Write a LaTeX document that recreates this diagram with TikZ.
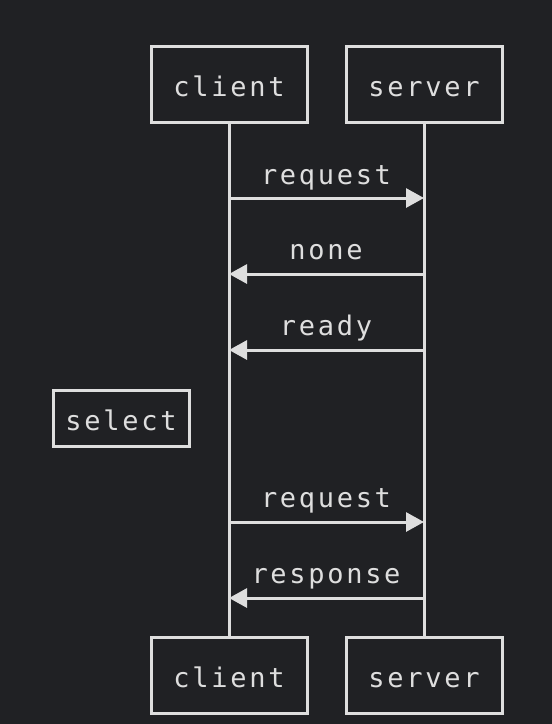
\documentclass[tikz,border=0pt]{standalone}
\usepackage{fontspec}
\setmonofont[LetterSpace=10]{DejaVu Sans Mono}
\usetikzlibrary{arrows.meta}
\definecolor{bg}{RGB}{32,33,36}
\definecolor{fg}{RGB}{222,222,222}
\tikzset{
  actor/.style={draw=fg, line width=3pt, fill=bg, minimum width=156pt, minimum height=76pt,
    inner sep=0pt, text height=24pt, text depth=0pt, text=fg, font=\ttfamily\fontsize{27}{27}\selectfont},
  notebox/.style={actor, minimum width=136pt, minimum height=56pt},
  msglabel/.style={anchor=base, text=fg, inner sep=0pt, font=\ttfamily\fontsize{27}{27}\selectfont},
  lifeline/.style={draw=fg, line width=3pt},
  msg/.style={draw=fg, line width=3pt, -{Triangle[length=18pt,width=19pt]}},
}
\begin{document}
\begin{tikzpicture}[x=1pt,y=-1pt]
  \fill[bg] (0,0) rectangle (552,724);
  \useasboundingbox (0,0) rectangle (552,724);
  % actors
  \node[actor] (ct) at (229,84) {client};
  \node[actor] (st) at (424,84) {server};
  \node[actor] (cb) at (229,675) {client};
  \node[actor] (sb) at (424,675) {server};
  % lifelines
  \draw[lifeline] (ct.south) -- (cb.north);
  \draw[lifeline] (st.south) -- (sb.north);
  % note
  \node[notebox] (sel) at (121,418) {select};
  % message anchors
  \coordinate (c1) at (229,198); \coordinate (s1) at (424,198);
  \coordinate (c2) at (229,274); \coordinate (s2) at (424,274);
  \coordinate (c3) at (229,350); \coordinate (s3) at (424,350);
  \coordinate (c4) at (229,522); \coordinate (s4) at (424,522);
  \coordinate (c5) at (229,598); \coordinate (s5) at (424,598);
  % messages
  \draw[msg] (c1) -- (s1);
  \node[msglabel] (l1) at (326,184) {request};
  \draw[msg] (s2) -- (c2);
  \node[msglabel] (l2) at (326,259) {none};
  \draw[msg] (s3) -- (c3);
  \node[msglabel] (l3) at (326,335) {ready};
  \draw[msg] (c4) -- (s4);
  \node[msglabel] (l4) at (326,507) {request};
  \draw[msg] (s5) -- (c5);
  \node[msglabel] (l5) at (326,583) {response};
\end{tikzpicture}
\end{document}
